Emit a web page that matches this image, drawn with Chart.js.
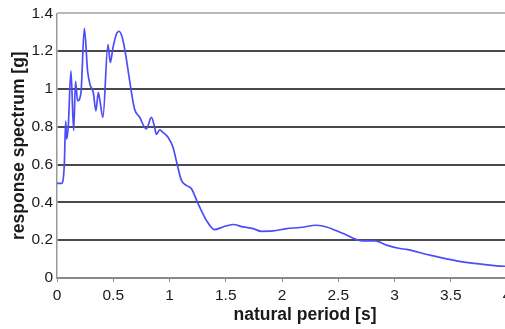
<!DOCTYPE html>
<html>
<head>
<meta charset="utf-8">
<script src="https://cdn.jsdelivr.net/npm/chart.js@4/dist/chart.umd.min.js"></script>
<style>
  html, body { margin: 0; padding: 0; background: #fff; overflow: hidden; }
  #wrap { width: 520px; height: 329px; }
</style>
</head>
<body>
<div id="wrap"><canvas id="spectrumChart" width="520" height="329"></canvas></div>
<script>
// natural period [s]
const periods = [
    0, 0.04, 0.065, 0.077, 0.086, 0.10, 0.124, 0.148, 0.165, 0.183,
    0.213, 0.243, 0.272, 0.293, 0.323, 0.346, 0.367, 0.382, 0.408, 0.453,
    0.474, 0.497, 0.527, 0.551, 0.581, 0.61, 0.646, 0.69, 0.735, 0.794,
    0.839, 0.868, 0.883, 0.913, 0.942, 0.987, 1.031, 1.067, 1.106, 1.15,
    1.195, 1.254, 1.328, 1.40, 1.476, 1.565, 1.654, 1.743, 1.818, 1.92,
    2.04, 2.16, 2.307, 2.396, 2.544, 2.72, 2.826, 2.93, 3.048, 3.108,
    3.315, 3.553, 3.76, 3.938, 4.0
];
// response spectrum [g]
const spectrum = [
    0.5, 0.5, 0.6, 0.83, 0.735, 0.80, 1.095, 0.78, 1.04, 0.937,
    0.98, 1.32, 1.095, 1.025, 0.98, 0.884, 0.98, 0.937, 0.85, 1.235,
    1.14, 1.217, 1.288, 1.305, 1.27, 1.183, 1.042, 0.893, 0.85, 0.788,
    0.85, 0.797, 0.76, 0.783, 0.77, 0.744, 0.691, 0.604, 0.516, 0.49,
    0.472, 0.393, 0.305, 0.256, 0.27, 0.283, 0.27, 0.261, 0.247, 0.249,
    0.261, 0.267, 0.279, 0.27, 0.235, 0.196, 0.196, 0.174, 0.156, 0.151,
    0.121, 0.091, 0.074, 0.063, 0.062
];
const xTicks = [0, 0.5, 1, 1.5, 2, 2.5, 3, 3.5, 4];
const yTicks = [0, 0.2, 0.4, 0.6, 0.8, 1, 1.2, 1.4];
const xTitle = 'natural period [s]';
const yTitle = 'response spectrum [g]';

const textColor = '#1a1a1a';
const fontFamily = '"Liberation Sans", Arial, sans-serif';

// x title sits right of centre in the original, so draw it by hand
const xTitlePlugin = {
    id: 'xTitle',
    afterDraw(chart) {
        const c = chart.ctx;
        c.save();
        c.font = 'bold 17.5px ' + fontFamily;
        c.fillStyle = textColor;
        c.textAlign = 'center';
        c.textBaseline = 'middle';
        c.fillText(xTitle, 305, 315);
        c.restore();
    }
};

new Chart(document.getElementById('spectrumChart'), {
    type: 'scatter',
    data: {
        datasets: [{
            data: periods.map((p, i) => ({ x: p, y: spectrum[i] })),
            showLine: true,
            borderColor: '#4c4cf8',
            borderWidth: 1.7,
            pointRadius: 0,
            cubicInterpolationMode: 'monotone',
            fill: false
        }]
    },
    options: {
        responsive: false,
        animation: false,
        layout: { padding: { left: 0, top: 12, right: 13, bottom: 0 } },
        plugins: { legend: { display: false }, tooltip: { enabled: false } },
        scales: {
            x: {
                type: 'linear',
                min: 0,
                max: 4,
                afterBuildTicks: s => { s.ticks = xTicks.map(v => ({ value: v })); },
                afterFit: s => { s.height = 51; },
                grid: { drawOnChartArea: false, drawTicks: true, tickLength: 4, color: '#8a8a8a' },
                border: { color: '#8a8a8a', width: 1.5 },
                ticks: {
                    color: textColor,
                    padding: 4,
                    maxRotation: 0,
                    autoSkip: false,
                    font: { family: fontFamily, size: 15.5 },
                    callback: v => String(v)
                }
            },
            y: {
                min: 0,
                max: 1.4,
                afterBuildTicks: s => { s.ticks = yTicks.map(v => ({ value: v })); },
                afterFit: s => { s.width = 57; },
                grid: {
                    drawTicks: false,
                    color: ctx => ctx.tick.value === 1.4 ? '#b8b8b8' : (ctx.tick.value === 0 ? '#8a8a8a' : '#4a4a4a'),
                    lineWidth: 1.9
                },
                border: { color: '#9a9a9a', width: 1.5 },
                ticks: {
                    color: textColor,
                    padding: 4,
                    font: { family: fontFamily, size: 15.5 },
                    callback: v => String(v)
                },
                title: {
                    display: true,
                    text: yTitle,
                    color: textColor,
                    padding: { top: 9, bottom: 0 },
                    font: { family: fontFamily, size: 17.5, weight: 'bold' }
                }
            }
        }
    },
    plugins: [xTitlePlugin]
});
</script>
</body>
</html>
